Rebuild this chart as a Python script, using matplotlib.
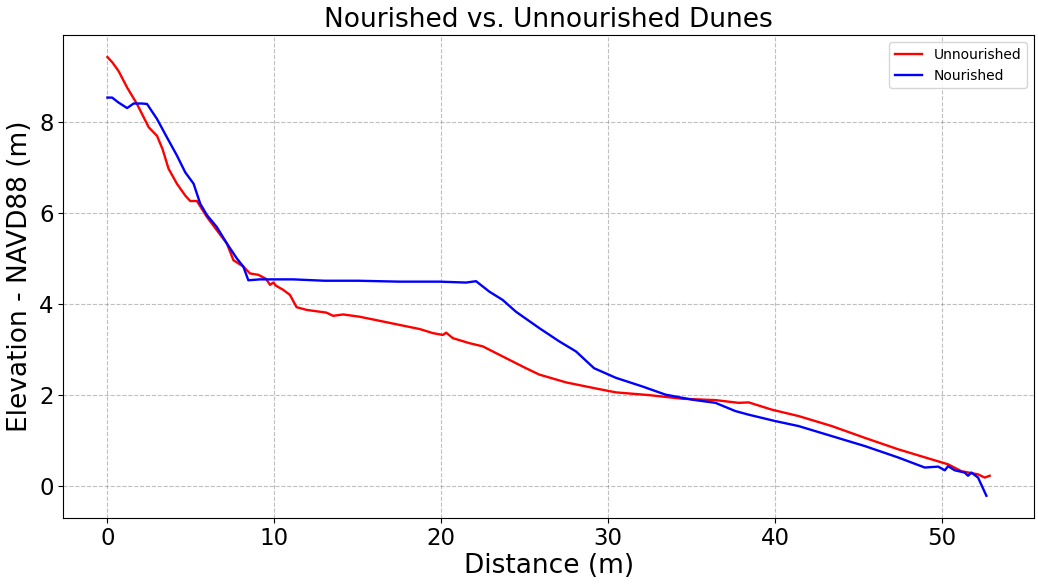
import numpy as np
import matplotlib
matplotlib.use('Agg')
import matplotlib.pyplot as plt

# Unnourished profile (distance m, elevation m)
unnourished_x = [0.0, 0.3, 0.67, 1.18, 1.77, 2.47, 2.97, 3.3, 3.66, 4.16, 4.66, 4.96,
                 5.36, 5.96, 6.55, 7.15, 7.55, 8.14, 8.54, 9.04, 9.5, 9.74, 9.94, 10.1,
                 10.53, 10.93, 11.33, 11.93, 13.12, 13.52, 14.12, 15.11, 16.31, 17.5,
                 18.7, 19.5, 20.09, 20.29, 20.69, 21.68, 22.48, 23.88, 25.07, 25.87,
                 27.46, 29.06, 30.45, 32.44, 34.43, 36.42, 37.81, 38.41, 39.8, 41.4,
                 43.39, 45.38, 47.37, 49.36, 50.36, 51.15, 52.15, 52.55, 52.85]
unnourished_y = [9.42, 9.3, 9.11, 8.75, 8.39, 7.88, 7.69, 7.4, 6.97, 6.64, 6.38, 6.26,
                 6.26, 5.91, 5.62, 5.33, 4.96, 4.82, 4.67, 4.64, 4.55, 4.42, 4.47, 4.40,
                 4.31, 4.20, 3.93, 3.87, 3.81, 3.74, 3.77, 3.72, 3.63, 3.54,
                 3.45, 3.36, 3.32, 3.37, 3.25, 3.14, 3.07, 2.81, 2.59, 2.45,
                 2.28, 2.16, 2.06, 2.00, 1.92, 1.89, 1.83, 1.84, 1.68, 1.54,
                 1.32, 1.06, 0.81, 0.59, 0.48, 0.33, 0.26, 0.19, 0.23]

# Nourished profile
nourished_x = [0.0, 0.28, 0.67, 1.18, 1.57, 2.07, 2.37, 2.97, 3.56, 4.16, 4.66, 5.16,
               5.56, 5.96, 6.55, 7.15, 7.75, 8.14, 8.44, 9.14, 11.13, 13.0, 15.0, 17.5,
               19.89, 21.48, 22.08, 22.88, 23.67, 24.47, 25.87, 27.06, 28.06, 29.15,
               30.45, 32.04, 33.43, 35.02, 36.42, 37.61, 38.41, 40.0, 41.4, 43.39,
               45.38, 47.37, 48.96, 49.76, 50.16, 50.36, 50.75, 51.35, 51.55, 51.75,
               52.15, 52.65]
nourished_y = [8.53, 8.53, 8.42, 8.30, 8.40, 8.40, 8.39, 8.06, 7.66, 7.26, 6.89, 6.64,
               6.20, 5.95, 5.69, 5.33, 5.00, 4.82, 4.52, 4.54, 4.54, 4.51, 4.51, 4.49,
               4.49, 4.47, 4.50, 4.27, 4.09, 3.83, 3.47, 3.18, 2.96, 2.59,
               2.38, 2.19, 2.01, 1.90, 1.83, 1.65, 1.57, 1.43, 1.32, 1.10,
               0.88, 0.63, 0.41, 0.43, 0.35, 0.44, 0.35, 0.30, 0.23, 0.30,
               0.19, -0.21]

fig = plt.figure(figsize=(10.38, 5.85), dpi=100)
ax = fig.add_axes([0.061, 0.115, 0.935, 0.825])

ax.plot(unnourished_x, unnourished_y, color='red', linewidth=1.7, label='Unnourished')
ax.plot(nourished_x, nourished_y, color='blue', linewidth=1.7, label='Nourished')

ax.set_title('Nourished vs. Unnourished Dunes', fontsize=19)
ax.set_xlabel('Distance (m)', fontsize=19, labelpad=2)
ax.set_ylabel('Elevation - NAVD88 (m)', fontsize=19)
ax.tick_params(axis='both', labelsize=16.5)
ax.grid(True, linestyle='--', color='gray', alpha=0.5)
ax.legend(loc='upper right', fontsize=10)

plt.savefig('out.png', dpi=100)
plt.close()
